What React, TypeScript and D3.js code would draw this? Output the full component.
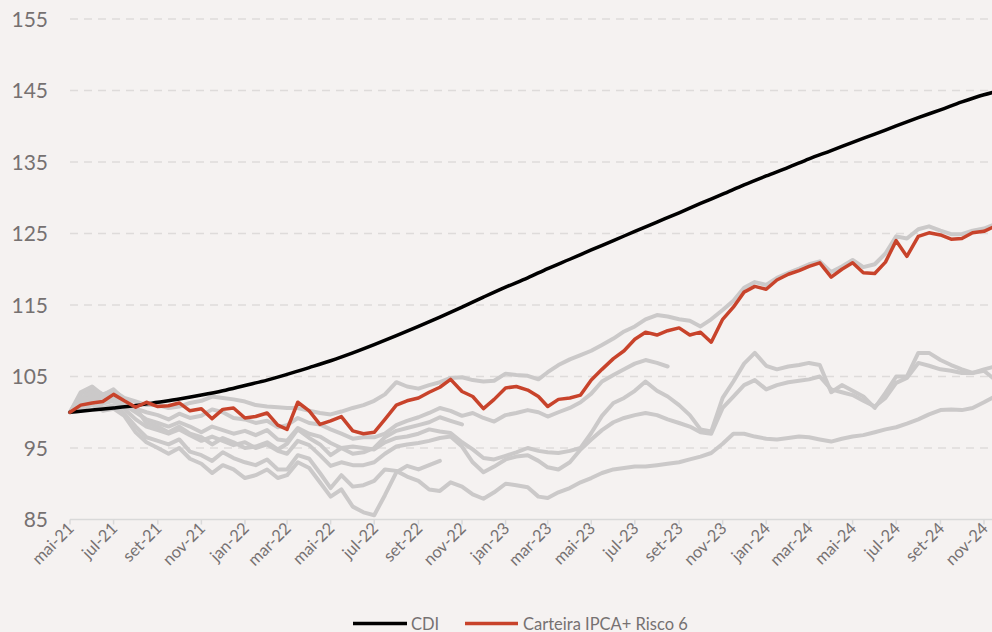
import React from "react";
import * as d3 from "d3";

// ---------- data ----------
const Y_TICKS = [85, 95, 105, 115, 125, 135, 145, 155];
const MONTH_LABELS = ["jan", "fev", "mar", "abr", "mai", "jun", "jul", "ago", "set", "out", "nov", "dez"];

// semi-monthly observation dates (1st and 16th of each month, May 2021 .. Nov 2024)
const SEMI_DATES = d3.range(86).map((i) => new Date(Date.UTC(2021, 4 + Math.floor(i / 2), i % 2 ? 16 : 1)));
// monthly dates for CDI
const CDI_DATES = [...d3.range(43).map((i) => new Date(Date.UTC(2021, 4 + i, 1))), new Date(Date.UTC(2024, 10, 16))];

const CDI = [100, 100.3, 100.6, 100.95, 101.4, 101.85, 102.4, 103.0,
  103.75, 104.5, 105.3, 106.25, 107.2, 108.3, 109.45, 110.7, 112.0, 113.3, 114.7, 116.1,
  117.5, 118.8, 120.1, 121.4, 122.7, 124.0, 125.3, 126.6, 127.9, 129.2, 130.5, 131.8,
  133.05, 134.25, 135.45, 136.6, 137.75, 138.9, 140.05, 141.2, 142.3, 143.4, 144.4, 144.8];

const CARTEIRA = [100.0, 101.0, 101.3, 101.5, 102.5, 101.6, 100.7, 101.4, 100.8, 100.9,
  101.3, 100.2, 100.5, 99.1, 100.4, 100.6, 99.2, 99.4, 99.9, 98.2,
  97.6, 101.4, 100.2, 98.3, 98.8, 99.4, 97.4, 97.0, 97.2, 99.0,
  101.0, 101.6, 102.0, 102.8, 103.5, 104.6, 102.9, 102.2, 100.5, 101.8,
  103.4, 103.6, 103.1, 102.2, 100.8, 101.8, 102.0, 102.4, 104.5, 106.0,
  107.5, 108.6, 110.2, 111.2, 110.8, 111.4, 111.8, 110.8, 111.2, 109.8,
  113.0, 114.7, 116.8, 117.6, 117.2, 118.5, 119.3, 119.8, 120.4, 120.9,
  118.9, 120.0, 120.9, 119.5, 119.4, 121.0, 124.0, 121.8, 124.6, 125.1,
  124.8, 124.2, 124.3, 125.1, 125.3, 126.0];

const GRAY_A = [100, 101.5, 103.3, 102.5, 103.0, 102.0, 101.5, 101.0, 101.0, 100.6,
  100.8, 101.3, 101.6, 102.2, 102.0, 101.8, 101.5, 101.0, 100.8, 100.7,
  100.6, 100.6, 100.2, 99.9, 99.7, 100.1, 100.6, 101.0, 101.6, 102.5,
  104.2, 103.6, 103.3, 103.8, 104.2, 104.8, 104.9, 104.5, 104.3, 104.4,
  105.4, 105.2, 105.1, 104.6, 105.6, 106.6, 107.4, 108.0, 108.6, 109.4,
  110.3, 111.3, 112.0, 113.0, 113.6, 113.4, 113.0, 112.8, 112.0, 113.0,
  114.3, 115.6, 117.4, 118.2, 117.8, 118.8, 119.5, 120.1, 120.7, 121.1,
  119.6, 120.4, 121.3, 120.3, 120.7, 122.2, 124.6, 124.3, 125.6, 126.0,
  125.4, 124.9, 124.9, 125.4, 125.7, 126.3];

const GRAY_B = [100, 102.5, 103.5, 102.0, 102.8, 101.5, 100.5, 100.0, 99.6, 99.0,
  99.8, 99.2, 99.5, 100.4, 100.0, 99.2, 99.0, 98.5, 98.8, 97.9,
  98.2, 99.2, 98.5, 98.3, 97.6, 97.0, 96.3, 96.5, 96.5, 97.0,
  98.2, 98.8, 99.3, 99.9, 100.6, 100.2, 99.5, 99.9, 99.2, 98.7,
  99.6, 99.9, 100.3, 100.0, 99.4, 100.0, 100.6, 101.4, 102.6, 104.3,
  105.2, 106.0, 106.8, 107.3, 106.9, 106.4];

const GRAY_C = [100, 102.0, 102.8, 101.5, 102.0, 101.0, 100.0, 99.0, 98.5, 98.0,
  98.6, 98.0, 97.2, 98.0, 97.5, 97.0, 97.4, 96.8, 97.5, 96.2,
  96.0, 97.8, 97.0, 96.6, 95.7, 95.0, 95.2, 95.0, 94.8, 95.8,
  96.4, 96.6, 97.0, 97.6, 97.3, 97.1, 95.8, 94.8, 93.6, 93.4,
  93.9, 94.4, 95.0, 94.6, 94.4, 94.3, 94.6, 95.0, 97.1, 99.5,
  101.3, 102.0, 103.0, 104.3, 103.0, 102.2, 101.0, 99.6, 97.6, 97.3,
  102.0, 104.3, 106.8, 108.3, 106.5, 106.0, 106.4, 106.6, 106.9, 106.6,
  102.8, 103.8, 103.0, 102.2, 100.6, 102.7, 105.0, 105.0, 108.3, 108.3,
  107.3, 106.6, 106.0, 105.5, 105.8, 104.6];

const GRAY_D = [100, 101.5, 102.3, 101.2, 101.6, 100.5, 99.0, 98.0, 97.5, 97.0,
  97.6, 96.8, 96.0, 96.6, 96.0, 95.4, 95.8, 95.0, 95.5, 94.6,
  94.2, 96.0, 95.4, 94.0, 92.5, 93.0, 92.6, 92.6, 93.0, 94.2,
  95.2, 95.5, 95.7, 96.0, 96.4, 96.6, 95.2, 93.0, 91.6, 92.4,
  93.4, 93.8, 94.0, 93.2, 92.3, 92.0, 93.0, 94.8, 96.2, 97.5,
  98.6, 99.2, 99.6, 99.9, 99.6, 99.0, 98.5, 98.0, 97.2, 97.0,
  100.6, 102.2, 103.8, 104.5, 103.2, 103.8, 104.2, 104.4, 104.6, 105.0,
  103.2, 102.8, 102.4, 101.6, 100.8, 102.0, 104.1, 104.8, 106.9, 106.5,
  106.0, 105.8, 105.5, 105.5, 106.0, 106.4];

const GRAY_E = [100, 101.0, 101.8, 100.6, 101.0, 99.8, 98.0, 96.5, 96.0, 95.5,
  96.2, 94.5, 94.0, 93.2, 94.4, 93.6, 93.0, 92.6, 93.4, 92.0,
  92.0, 94.0, 93.5, 91.5, 89.4, 91.2, 89.6, 89.8, 90.4, 92.0,
  91.8, 91.0, 90.4, 89.2, 89.0, 90.2, 89.6, 88.5, 87.9, 88.8,
  90.0, 89.8, 89.5, 88.2, 88.0, 88.8, 89.4, 90.2, 90.8, 91.5,
  92.0, 92.2, 92.4, 92.4, 92.6, 92.8, 93.0, 93.4, 93.8, 94.3,
  95.6, 97.0, 97.0, 96.6, 96.3, 96.2, 96.4, 96.6, 96.5, 96.2,
  95.9, 96.3, 96.6, 96.8, 97.2, 97.6, 97.9, 98.4, 99.0, 99.7,
  100.3, 100.4, 100.3, 100.6, 101.4, 102.2];

const GRAY_F = [100, 102.8, 103.6, 102.4, 103.2, 101.8, 100.6, 98.5, 98.0, 97.2,
  98.0, 97.0, 96.5, 95.5, 96.4, 95.8, 95.0, 95.2, 95.8, 94.8,
  95.6, 97.6, 96.4, 95.5, 94.0, 95.0, 94.2, 94.4, 95.0, 96.5,
  97.4, 97.8, 98.2, 98.6, 99.3, 98.8, 98.3];

const GRAY_G = [100, 100.5, 101.0, 100.2, 100.5, 99.5, 97.2, 95.8, 95.0, 94.2,
  95.0, 93.5, 92.8, 91.5, 92.6, 92.0, 90.8, 91.2, 92.0, 90.8,
  91.2, 93.0, 92.2, 90.2, 88.2, 89.2, 86.8, 86.0, 85.6, 88.4,
  91.6, 92.5, 92.0, 92.6, 93.2];

const GRAY_SERIES = [GRAY_A, GRAY_B, GRAY_C, GRAY_D, GRAY_E, GRAY_F, GRAY_G];

const LEGEND = [
  { label: "CDI", color: "#000000" },
  { label: "Carteira IPCA+ Risco 6", color: "#c8432b" },
];

// ---------- chart ----------
const W = 992;
const H = 632;
const FONT = "Lato, 'Open Sans', sans-serif";

export default function App() {
  const x = d3
    .scaleUtc()
    .domain([new Date(Date.UTC(2021, 4, 1)), new Date(Date.UTC(2024, 10, 1))])
    .range([70, 984]);
  const y = d3.scaleLinear().domain([85, 155]).range([519.5, 19]);

  const monthTicks = d3.utcMonth.every(2)!.range(new Date(Date.UTC(2021, 4, 1)), new Date(Date.UTC(2024, 10, 2)));
  const fmt = (d: Date) => `${MONTH_LABELS[d.getUTCMonth()]}-${String(d.getUTCFullYear()).slice(2)}`;

  const line = d3
    .line<[Date, number]>()
    .x((d) => x(d[0]))
    .y((d) => y(d[1]));
  const smooth = d3
    .line<[Date, number]>()
    .x((d) => x(d[0]))
    .y((d) => y(d[1]))
    .curve(d3.curveMonotoneX);

  const pair = (vals: number[], dates: Date[]) => vals.map((v, i) => [dates[i], v] as [Date, number]);

  return (
    <svg
      width={W}
      height={H}
      style={{ position: "absolute", left: 0, top: 0, background: "#f5f2f1", fontFamily: FONT }}
    >
      <rect x={0} y={0} width={W} height={H} fill="#f5f2f1" />
      <defs>
        <clipPath id="plot">
          <rect x={60} y={0} width={W - 60} height={522} />
        </clipPath>
      </defs>

      {/* grid */}
      {Y_TICKS.map((t) => (
        <g key={t}>
          {t !== 85 && (
            <line
              x1={70}
              x2={W}
              y1={y(t)}
              y2={y(t)}
              stroke="#dedbda"
              strokeWidth={1.5}
              strokeDasharray="8 6"
            />
          )}
          <text x={48} y={y(t) + 7.5} textAnchor="end" fontSize={21} fill="#767171">
            {t}
          </text>
        </g>
      ))}

      {/* x axis */}
      <line x1={70} x2={W} y1={y(85)} y2={y(85)} stroke="#d9d9d9" strokeWidth={1.5} />
      {monthTicks.map((d) => (
        <g key={d.toISOString()}>
          <line x1={x(d)} x2={x(d)} y1={y(85)} y2={y(85) + 5} stroke="#d9d9d9" strokeWidth={1.5} />
          <text
            transform={`translate(${x(d) + 5},${y(85) + 10}) rotate(-45)`}
            textAnchor="end"
            fontSize={16.5}
            fill="#767171"
          >
            {fmt(d)}
          </text>
        </g>
      ))}

      <g clipPath="url(#plot)" fill="none" strokeLinejoin="round" strokeLinecap="round">
        {GRAY_SERIES.map((s, i) => (
          <path key={i} d={line(pair(s, SEMI_DATES)) || ""} stroke="#cbc9c9" strokeWidth={4} />
        ))}
        <path d={smooth(pair(CDI, CDI_DATES)) || ""} stroke="#000000" strokeWidth={3.5} />
        <path d={line(pair(CARTEIRA, SEMI_DATES)) || ""} stroke="#c8432b" strokeWidth={3.5} />
      </g>

      {/* legend */}
      <g>
        <line x1={353} x2={407} y1={623.5} y2={623.5} stroke={LEGEND[0].color} strokeWidth={3.5} />
        <text x={411} y={629.5} fontSize={16.5} fill="#767171">
          {LEGEND[0].label}
        </text>
        <line x1={465} x2={518} y1={623.5} y2={623.5} stroke={LEGEND[1].color} strokeWidth={3.5} />
        <text x={523} y={629.5} fontSize={16.5} fill="#767171">
          {LEGEND[1].label}
        </text>
      </g>
    </svg>
  );
}
